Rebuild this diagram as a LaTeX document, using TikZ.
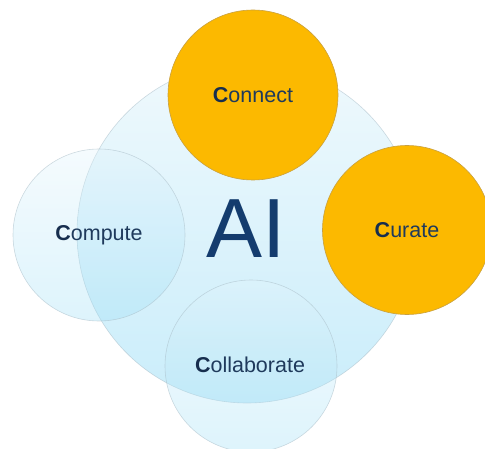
\documentclass[tikz,border=0pt]{standalone}
\usepackage{fontspec}
\setmainfont{Liberation Sans}
\definecolor{labeltext}{HTML}{1F3A5C}
\definecolor{boldC}{HTML}{172E4E}
\definecolor{aitext}{HTML}{143C6E}
\definecolor{orangefill}{HTML}{FCB900}
\definecolor{orangeline}{HTML}{C8A040}
\definecolor{paletop}{HTML}{E2F4FB}
\definecolor{palebottom}{HTML}{9EDEF6}
\definecolor{paleline}{HTML}{A8BCC6}
\tikzset{
  pale/.style={circle, inner sep=0pt, top color=paletop, bottom color=palebottom,
    fill opacity=0.55, draw=paleline, draw opacity=0.55, line width=0.6pt, text opacity=1},
  palesmall/.style={pale, fill opacity=0.35},
  gold/.style={circle, inner sep=0pt, fill=orangefill, draw=orangeline, line width=0.6pt},
  lbl/.style={text=labeltext, font=\fontsize{21.5}{24}\selectfont}
}
\newcommand{\firstC}{\textcolor{boldC}{\textbf{C}}}
\begin{document}
\begin{tikzpicture}[x=1pt,y=1pt]
\useasboundingbox (0,0) rectangle (485,448);
\node[pale, minimum size=340pt] (ai) at (247,215) {};
\node[palesmall, minimum size=172pt] (compute) at (99,213) {};
\node[palesmall, minimum size=172pt] (collab) at (251,82) {};
\node[gold, minimum size=170pt] (connect) at (253,353) {};
\node[gold, minimum size=169pt] (curate) at (407,218) {};
\node[lbl] (tcompute) at (compute.center) {\firstC ompute};
\node[lbl] (tcollab) at (250,83) {\firstC ollaborate};
\node[lbl] (tconnect) at (connect.center) {\firstC onnect};
\node[lbl] (tcurate) at (curate.center) {\firstC urate};
\node[text=aitext, font=\fontsize{84}{90}\selectfont] (tai) at (246,219) {AI};
\end{tikzpicture}
\end{document}
